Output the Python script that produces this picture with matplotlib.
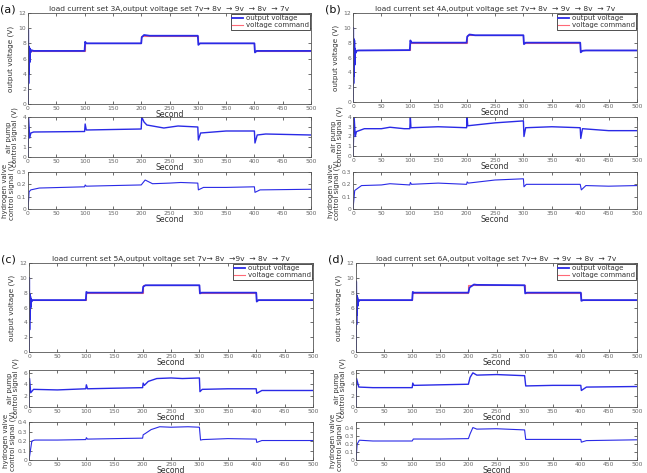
import matplotlib
matplotlib.use("Agg")
import matplotlib.pyplot as plt

W, H = 647, 473

# ---------------- data ----------------
cmd_times = [0, 100, 200, 300, 400, 500]
cmd_levels = [7, 8, 9, 8, 7]

titles = {
    'a': "load current set 3A,output voltage set 7v\u2192 8v  \u2192 9v  \u2192 8v  \u2192 7v",
    'b': "load current set 4A,output voltage set 7v\u2192 8v  \u2192 9v  \u2192 8v  \u2192 7v",
    'c': "load current set 5A,output voltage set 7v\u2192 8v  \u21929v  \u2192 8v  \u2192 7v",
    'd': "load current set 6A,output voltage set 7v\u2192 8v  \u2192 9v  \u2192 8v  \u2192 7v",
}

# output voltage (V)
vout_t = {
    'a': [0, 0.3, 0.8, 1.3, 1.8, 2.3, 2.8, 3.5, 4.5, 6, 10, 100, 101, 103, 110, 200, 201, 205, 215, 300, 301, 304, 310, 400, 401, 404, 410, 500],
    'b': [0, 0.3, 0.8, 1.3, 1.8, 2.3, 2.8, 3.5, 4.5, 6, 10, 100, 101, 103, 110, 200, 201, 205, 215, 300, 301, 304, 310, 400, 401, 404, 410, 500],
    'c': [0, 0.3, 0.8, 1.3, 1.8, 2.3, 2.8, 3.5, 4.5, 6, 10, 100, 101, 103, 110, 200, 201, 205, 215, 300, 301, 304, 310, 400, 401, 404, 410, 500],
    'd': [0, 0.3, 0.8, 1.3, 1.8, 2.3, 2.8, 3.5, 4.5, 6, 10, 100, 101, 103, 110, 200, 202, 210, 215, 300, 301, 304, 310, 400, 401, 404, 410, 500],
}
vout_v = {
    'a': [0, 9.8, 2.7, 7.6, 4.0, 7.4, 5.5, 7.3, 6.8, 7.1, 7.0, 7.0, 8.2, 8.0, 8.0, 8.0, 8.8, 9.1, 9.0, 9.0, 7.8, 8.0, 8.0, 8.0, 6.8, 7.0, 7.0, 7.0],
    'b': [0, 10.0, 2.5, 8.5, 3.5, 8.3, 5.0, 7.2, 6.6, 6.9, 6.95, 7.0, 8.3, 8.0, 8.0, 8.0, 8.8, 9.1, 9.0, 9.0, 7.8, 8.0, 8.0, 8.0, 6.7, 6.9, 6.95, 6.95],
    'c': [0, 10.0, 3.0, 7.8, 4.5, 7.5, 6.0, 7.2, 6.8, 7.0, 7.0, 7.0, 8.1, 8.0, 8.0, 8.0, 8.8, 9.0, 9.0, 9.0, 7.9, 8.0, 8.0, 8.0, 6.8, 7.0, 7.0, 7.0],
    'd': [0, 9.5, 3.7, 7.6, 5.0, 7.4, 6.2, 7.1, 6.8, 7.0, 7.0, 7.0, 8.1, 8.0, 8.0, 8.0, 8.7, 9.1, 9.05, 9.0, 7.9, 8.0, 8.0, 8.0, 6.9, 7.0, 7.0, 7.0],
}

# air pump control signal (V)
air_t = {
    'a': [0, 1, 3, 5, 10, 100, 101, 103, 150, 200, 201, 205, 210, 230, 240, 265, 300, 301, 305, 350, 400, 401, 405, 420, 500],
    'b': [0, 2, 4, 6, 20, 50, 65, 90, 100, 101, 102, 150, 200, 201, 202, 250, 300, 301, 304, 350, 400, 401, 404, 450, 500],
    'c': [0, 1, 3, 8, 50, 100, 101, 103, 150, 200, 201, 203, 210, 225, 250, 270, 300, 301, 305, 350, 400, 401, 410, 500],
    'd': [0, 1, 5, 30, 100, 101, 103, 150, 200, 203, 208, 215, 250, 300, 302, 350, 400, 401, 410, 500],
}
air_v = {
    'a': [0, 4.0, 1.9, 2.4, 2.5, 2.55, 3.3, 2.7, 2.75, 2.8, 4.0, 3.5, 3.2, 3.0, 2.9, 3.1, 3.0, 1.7, 2.4, 2.6, 2.6, 1.4, 2.2, 2.3, 2.2],
    'b': [0, 4.0, 2.0, 2.5, 2.8, 2.8, 2.95, 2.8, 2.8, 4.0, 2.9, 3.0, 2.9, 4.0, 3.1, 3.4, 3.6, 2.0, 2.9, 3.0, 2.9, 1.8, 2.8, 2.6, 2.6],
    'c': [0, 5.0, 2.5, 3.1, 3.0, 3.2, 3.9, 3.2, 3.3, 3.4, 4.2, 3.8, 4.5, 5.0, 5.1, 5.0, 5.1, 2.7, 3.1, 3.2, 3.2, 2.4, 2.9, 2.9],
    'd': [0, 5.0, 3.5, 3.4, 3.4, 4.2, 3.8, 3.9, 4.0, 5.2, 6.0, 5.6, 5.7, 5.5, 3.7, 3.8, 3.8, 2.9, 3.5, 3.6],
}

# hydrogen valve control signal (V)
h2_t = {
    'a': [0, 2, 5, 20, 100, 101, 103, 150, 200, 207, 220, 250, 270, 300, 301, 310, 350, 400, 401, 410, 500],
    'b': [0, 3, 15, 50, 65, 100, 101, 103, 150, 200, 201, 203, 250, 300, 301, 305, 350, 400, 402, 410, 450, 500],
    'c': [0, 5, 10, 50, 100, 101, 103, 150, 200, 201, 205, 215, 230, 250, 280, 300, 302, 306, 350, 400, 401, 410, 500],
    'd': [0, 2, 6, 30, 100, 102, 150, 200, 203, 208, 215, 250, 300, 302, 350, 400, 401, 410, 500],
}
h2_v = {
    'a': [0, 0.14, 0.155, 0.17, 0.18, 0.195, 0.185, 0.19, 0.195, 0.235, 0.205, 0.21, 0.215, 0.21, 0.155, 0.175, 0.175, 0.18, 0.135, 0.155, 0.16],
    'b': [0, 0.15, 0.19, 0.195, 0.205, 0.195, 0.215, 0.2, 0.21, 0.2, 0.22, 0.21, 0.235, 0.245, 0.18, 0.2, 0.2, 0.2, 0.155, 0.19, 0.185, 0.19],
    'c': [0, 0.2, 0.21, 0.21, 0.215, 0.235, 0.22, 0.225, 0.23, 0.265, 0.28, 0.32, 0.35, 0.345, 0.35, 0.345, 0.21, 0.215, 0.225, 0.22, 0.185, 0.205, 0.205],
    'd': [0, 0.2, 0.25, 0.24, 0.24, 0.265, 0.265, 0.27, 0.33, 0.41, 0.39, 0.395, 0.38, 0.26, 0.26, 0.26, 0.225, 0.245, 0.255],
}

air_ylim = {'a': (0, 4), 'b': (0, 4), 'c': (0, 6.5), 'd': (0, 6.5)}
air_ticks = {'a': [0, 1, 2, 3, 4], 'b': [0, 1, 2, 3, 4], 'c': [0, 2, 4, 6], 'd': [0, 2, 4, 6]}
h2_ylim = {'a': (0, 0.3), 'b': (0, 0.3), 'c': (0, 0.4), 'd': (0, 0.48)}
h2_ticks = {'a': [0, 0.1, 0.2, 0.3], 'b': [0, 0.1, 0.2, 0.3], 'c': [0, 0.1, 0.2, 0.3, 0.4], 'd': [0, 0.1, 0.2, 0.3, 0.4]}

xticks = [0, 50, 100, 150, 200, 250, 300, 350, 400, 450, 500]

# ---------------- layout (pixels) ----------------
layout = {
    'a': dict(x0=28, x1=311, top=(13, 104), air=(117, 157), h2=(172, 209)),
    'b': dict(x0=353, x1=637, top=(13, 102), air=(117, 156), h2=(172, 209)),
    'c': dict(x0=29, x1=313, top=(263, 352), air=(370, 407), h2=(422, 460)),
    'd': dict(x0=356, x1=637, top=(263, 352), air=(370, 407), h2=(422, 460)),
}

BLUE = '#2a2ae6'
RED = '#ff4f5f'
TICKC = '#666666'
FS = 4.3

fig = plt.figure(figsize=(W / 100, H / 100), dpi=100)
fig.patch.set_facecolor('white')


def mkax(x0, x1, yt, yb):
    ax = fig.add_axes([x0 / W, 1 - yb / H, (x1 - x0) / W, (yb - yt) / H])
    ax.set_xlim(0, 500)
    ax.set_xticks(xticks)
    ax.tick_params(direction='in', top=True, right=True, length=2, width=0.5,
                   labelsize=FS, pad=1.2, colors='#333333')
    ax.tick_params(labelcolor=TICKC)
    for s in ax.spines.values():
        s.set_linewidth(0.6)
        s.set_color('#555555')
    ax.set_xlabel('Second', fontsize=5.6, labelpad=-0.3, color='#333333')
    return ax


for k in ['a', 'b', 'c', 'd']:
    L = layout[k]
    ax = mkax(L['x0'], L['x1'], *L['top'])
    ax.plot(vout_t[k], vout_v[k], color=BLUE, lw=1.3, label='output voltage')
    ax.stairs(cmd_levels, cmd_times, color=RED, lw=0.8, alpha=0.85, baseline=None,
              label='voltage command')
    ax.set_ylim(0, 12)
    ax.set_yticks([0, 2, 4, 6, 8, 10, 12])
    ax.set_ylabel('output voltage (V)', fontsize=5.2, labelpad=3, color='#333333')
    ax.set_title(titles[k], fontsize=5.4, pad=1.5, color='#333333')
    leg = ax.legend(loc='upper right', fontsize=5.0, handlelength=1.6, handletextpad=0.3,
                    borderpad=0.2, labelspacing=0.15, borderaxespad=0.15, fancybox=False,
                    framealpha=1)
    leg.get_frame().set_edgecolor('#333333')
    leg.get_frame().set_linewidth(0.6)
    for t in leg.get_texts():
        t.set_color('#333333')
    fig.text((L['x0'] - 28) / W, 1 - (L['top'][0] - 3) / H, '(' + k + ')', fontsize=8,
             ha='left', va='center', color='#111111')

    ax2 = mkax(L['x0'], L['x1'], *L['air'])
    ax2.plot(air_t[k], air_v[k], color=BLUE, lw=1.0)
    ax2.set_ylim(*air_ylim[k])
    ax2.set_yticks(air_ticks[k])
    ax2.set_ylabel('air pump\ncontrol signal (V)', fontsize=5.0, labelpad=3,
                   linespacing=0.95, color='#333333')

    ax3 = mkax(L['x0'], L['x1'], *L['h2'])
    ax3.plot(h2_t[k], h2_v[k], color=BLUE, lw=0.8)
    ax3.set_ylim(*h2_ylim[k])
    ax3.set_yticks(h2_ticks[k])
    ax3.set_yticklabels([('%g' % v) for v in h2_ticks[k]])
    ax3.set_ylabel('hydrogen valve\ncontrol signal (V)', fontsize=5.0, labelpad=1.5,
                   linespacing=0.95, color='#333333')

fig.savefig('out.png', dpi=100, facecolor='white')
